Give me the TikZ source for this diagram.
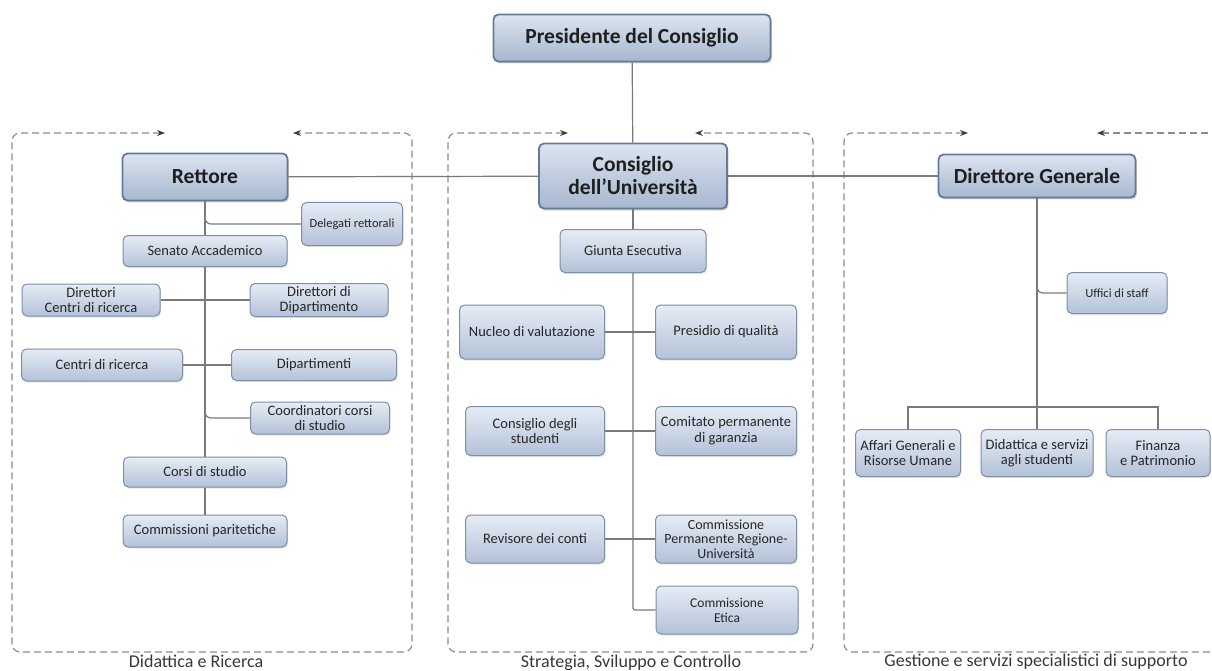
\documentclass[tikz,border=0pt]{standalone}
\usepackage{fontspec}
\setmainfont{Carlito}
\usetikzlibrary{arrows.meta,shadows}
\definecolor{boxtop}{HTML}{E6ECF5}
\definecolor{boxbot}{HTML}{B3C2D8}
\definecolor{boxedge}{HTML}{7C8EA9}
\definecolor{headtop}{HTML}{DCE4F0}
\definecolor{headbot}{HTML}{A6B7CF}
\definecolor{headedge}{HTML}{657A98}
\definecolor{boxtext}{HTML}{262626}
\definecolor{linkgray}{HTML}{7A7A7A}
\definecolor{dashgray}{HTML}{8C8C8C}
\definecolor{tipgray}{HTML}{3C3C3C}
\begin{document}
\begin{tikzpicture}[x=1pt,y=-1pt,
  box/.style={draw=boxedge, line width=1pt, rounded corners=5pt, top color=boxtop, bottom color=boxbot,
    text=boxtext, align=center, inner sep=1pt, font=\fontsize{14.5}{15.5}\selectfont,
    drop shadow={opacity=0.2, shadow xshift=1pt, shadow yshift=-1.5pt}},
  head/.style={box, draw=headedge, line width=1.8pt, top color=headtop, bottom color=headbot,
    text=black!88, font=\bfseries\fontsize{21.5}{23}\selectfont,
    drop shadow={opacity=0.3, shadow xshift=1.5pt, shadow yshift=-2pt}},
  sz/.style 2 args={minimum width=#1, minimum height=#2},
  link/.style={draw=linkgray, line width=1.2pt},
  region/.style={draw=dashgray, line width=1.2pt, dash pattern=on 7pt off 4pt, rounded corners=8pt,
    >={Stealth[length=8pt, width=6pt, color=tipgray]}},
  caption/.style={text=black!78, font=\fontsize{18}{20}\selectfont, anchor=base}]

\useasboundingbox (0,0) rectangle (1212,671);

\draw[region, <->] (165,133) -- (12,133) -- (12,652) -- (412,652) -- (412,133) -- (293,133);
\draw[region, <->] (568,133) -- (448,133) -- (448,652) -- (813,652) -- (813,133) -- (695,133);
\draw[region, <-] (968,133) -- (844,133) -- (844,652) -- (1230,652);
\draw[region, ->] (1230,133) -- (1097,133);

\node[head, sz={277}{47}] (pres) at (632,38) {Presidente del Consiglio};
\node[head, sz={165}{47}] (rett) at (205,177) {Rettore};
\node[head, sz={188}{65}] (cons) at (633,176) {Consiglio\\dell’Università};
\node[head, sz={197}{43}] (dirg) at (1037,176) {Direttore Generale};

\node[box, sz={101}{43}, font=\fontsize{12.5}{14}\selectfont] (del) at (352,224) {Delegati rettorali};
\node[box, sz={164}{31}] (sen) at (205,251) {Senato Accademico};
\node[box, sz={138}{32}] (dcr) at (91,300) {Direttori\\Centri di ricerca};
\node[box, sz={138}{33}] (ddip) at (319,300) {Direttori di\\Dipartimento};
\node[box, sz={161}{32}] (cdr) at (102,365) {Centri di ricerca};
\node[box, sz={165}{31}] (dip) at (314,365) {Dipartimenti};
\node[box, sz={139}{32}] (coord) at (320,418) {Coordinatori corsi\\di studio};
\node[box, sz={163}{30}] (corsi) at (205,472) {Corsi di studio};
\node[box, sz={164}{32}] (comp) at (205,531) {Commissioni paritetiche};

\node[box, sz={146}{43}] (giunta) at (633,251) {Giunta Esecutiva};
\node[box, sz={145}{54}] (nucleo) at (532,332) {Nucleo di valutazione};
\node[box, sz={141}{54}] (presidio) at (726,332) {Presidio di qualità};
\node[box, sz={139}{49}] (cstud) at (535,431) {Consiglio degli\\studenti};
\node[box, sz={141}{49}] (cpg) at (726,431) {Comitato permanente\\di garanzia};
\node[box, sz={139}{48}] (rev) at (535,539) {Revisore dei conti};
\node[box, sz={141}{48}, font=\fontsize{14}{14.7}\selectfont] (cpru) at (726,539) {Commissione\\Permanente Regione-\\Università};
\node[box, sz={142}{48}, font=\fontsize{13.5}{15}\selectfont] (etica) at (727,610) {Commissione\\Etica};

\node[box, sz={100}{41}, font=\fontsize{12.5}{14}\selectfont] (uffici) at (1117,293) {Uffici di staff};
\node[box, sz={105}{47}] (affari) at (908,453) {Affari Generali e\\Risorse Umane};
\node[box, sz={112}{47}] (didserv) at (1037,453) {Didattica e servizi\\agli studenti};
\node[box, sz={104}{47}] (fin) at (1158,453) {Finanza\\e Patrimonio};
\coordinate (bus) at (1037,407);

\draw[link] (pres) -- (cons);
\draw[link] (rett) -- (cons);
\draw[link] (cons) -- (dirg);

\draw[link] (rett) -- (sen);
\draw[link, rounded corners=6pt] (rett.south) |- (del.west);
\draw[link] (sen) -- (corsi);
\draw[link] (corsi) -- (comp);
\draw[link] (dcr) -- (ddip);
\draw[link] (cdr) -- (dip);
\draw[link, rounded corners=6pt] (sen.south) |- (coord.west);

\draw[link] (cons) -- (giunta);
\draw[link, rounded corners=2pt] (giunta.south) |- (etica.west);
\draw[link] (nucleo) -- (presidio);
\draw[link] (cstud) -- (cpg);
\draw[link] (rev) -- (cpru);

\draw[link, rounded corners=6pt] (dirg.south) |- (uffici.west);
\draw[link] (dirg) -- (bus) -- (didserv);
\draw[link] (affari) |- (bus) -| (fin);

\node[caption] (capdr) at (196,667) {Didattica e Ricerca};
\node[caption] (capssc) at (631,667) {Strategia, Sviluppo e Controllo};
\node[caption] (capgss) at (1036,666) {Gestione e servizi specialistici di supporto};

\end{tikzpicture}
\end{document}
